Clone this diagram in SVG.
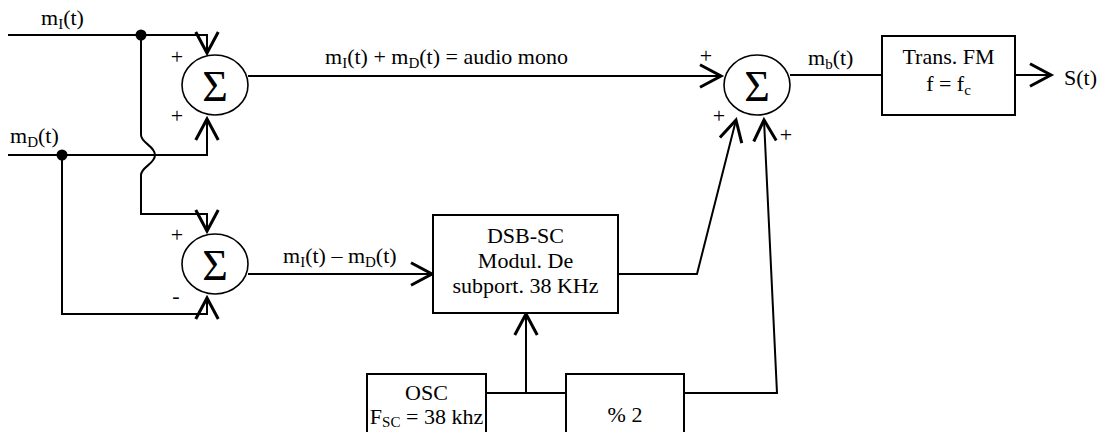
<svg xmlns="http://www.w3.org/2000/svg" width="1101" height="432" viewBox="0 0 1101 432">
  <style>
    text { font-family: "Liberation Serif", "DejaVu Serif", serif; fill: #000; }
    .lbl { font-size: 22px; }
    .sub { font-size: 15px; }
    .sign { font-size: 22px; text-anchor: middle; }
    .sigma { font-size: 44px; text-anchor: middle; }
    .mid { text-anchor: middle; }
    .wire { fill: none; stroke: #000; stroke-width: 2; stroke-linejoin: miter; }
    .arrow { marker-end: url(#head); }
    .sum { fill: #fff; stroke: #000; stroke-width: 1.6; }
    .box { fill: #fff; stroke: #000; stroke-width: 2; }
    .dot { fill: #000; }
  </style>
  <defs>
    <marker id="head" markerUnits="userSpaceOnUse" orient="auto" markerWidth="30" markerHeight="30" refX="0" refY="0" viewBox="-16 -10 20 20" overflow="visible">
      <path d="M-14,-7.5 L0,0 L-14,7.5" fill="none" stroke="#000" stroke-width="2"/>
    </marker>
  </defs>

  <!-- connectors -->
  <g id="connectors">
    <!-- m_I input into upper adder -->
    <path class="wire arrow" d="M8,35 H207 V53"/>
    <!-- m_I branch into lower adder, hopping over the m_D wire -->
    <path class="wire arrow" d="M141,35 V135 C141,143 155,146 155,155 C155,164 141,167 141,175 V214 H207 V231"/>
    <!-- m_D input into upper adder -->
    <path class="wire arrow" d="M8,155 H207 V119"/>
    <!-- m_D branch into lower adder -->
    <path class="wire arrow" d="M62,155 V314 H207 V298"/>
    <!-- mono sum to output adder -->
    <path class="wire arrow" d="M248,76 H721"/>
    <!-- difference into DSB-SC modulator -->
    <path class="wire arrow" d="M248,274 H432"/>
    <!-- modulator output to output adder -->
    <path class="wire arrow" d="M618,274 H697 L736,120"/>
    <!-- oscillator to divider, with tap into modulator -->
    <path class="wire" d="M486,393 H566"/>
    <path class="wire arrow" d="M526,393 V314"/>
    <!-- pilot from divider to output adder -->
    <path class="wire arrow" d="M684,393 H777 L764,120"/>
    <!-- adder output to FM transmitter -->
    <path class="wire" d="M790,75 H882"/>
    <!-- transmitter output -->
    <path class="wire arrow" d="M1015,75 H1051"/>

    <circle class="dot" cx="141" cy="35" r="5.5"/>
    <circle class="dot" cx="62" cy="155" r="5.5"/>

    <!-- wire labels -->
    <text class="lbl" x="41" y="25">m<tspan class="sub" dy="4">I</tspan><tspan dy="-4">(t)</tspan></text>
    <text class="lbl" x="10" y="143">m<tspan class="sub" dy="4">D</tspan><tspan dy="-4">(t)</tspan></text>
    <text class="lbl" x="325" y="64">m<tspan class="sub" dy="4">I</tspan><tspan dy="-4">(t) + m</tspan><tspan class="sub" dy="4">D</tspan><tspan dy="-4">(t) = audio mono</tspan></text>
    <text class="lbl" x="283" y="263">m<tspan class="sub" dy="4">I</tspan><tspan dy="-4">(t) – m</tspan><tspan class="sub" dy="4">D</tspan><tspan dy="-4">(t)</tspan></text>
    <text class="lbl" x="808" y="65">m<tspan class="sub" dy="4">b</tspan><tspan dy="-4">(t)</tspan></text>
    <text class="lbl" x="1064" y="85">S(t)</text>
  </g>

  <!-- upper adder: left + right -->
  <g id="sum-mono">
    <ellipse class="sum" cx="215" cy="85" rx="33" ry="30"/>
    <text class="sigma" x="215" y="101">Σ</text>
    <text class="sign" x="177" y="64">+</text>
    <text class="sign" x="177" y="123">+</text>
  </g>

  <!-- lower adder: left - right -->
  <g id="sum-diff">
    <ellipse class="sum" cx="215" cy="264" rx="33" ry="30"/>
    <text class="sigma" x="215" y="280">Σ</text>
    <text class="sign" x="177" y="242">+</text>
    <text class="sign" x="176" y="303">-</text>
  </g>

  <!-- output adder -->
  <g id="sum-out">
    <ellipse class="sum" cx="757" cy="85" rx="33" ry="30"/>
    <text class="sigma" x="757" y="101">Σ</text>
    <text class="sign" x="706" y="63">+</text>
    <text class="sign" x="719" y="123">+</text>
    <text class="sign" x="786" y="142">+</text>
  </g>

  <!-- DSB-SC modulator -->
  <g id="dsb-mod">
    <rect class="box" x="433" y="215" width="185" height="98"/>
    <text class="lbl mid" x="525.5" y="243">DSB-SC</text>
    <text class="lbl mid" x="525.5" y="268">Modul. De</text>
    <text class="lbl mid" x="525.5" y="293">subport. 38 KHz</text>
  </g>

  <!-- FM transmitter -->
  <g id="fm-tx">
    <rect class="box" x="882" y="36" width="133" height="79"/>
    <text class="lbl mid" x="948.5" y="64">Trans. FM</text>
    <text class="lbl mid" x="948.5" y="91">f = f<tspan class="sub" dy="4">c</tspan></text>
  </g>

  <!-- subcarrier oscillator -->
  <g id="osc">
    <rect class="box" x="367" y="374" width="119" height="70"/>
    <text class="lbl mid" x="426.5" y="400">OSC</text>
    <text class="lbl mid" x="426.5" y="424">F<tspan class="sub" dy="3">SC</tspan><tspan dy="-3"> = 38 khz</tspan></text>
  </g>

  <!-- frequency divider -->
  <g id="divider">
    <rect class="box" x="566" y="374" width="118" height="70"/>
    <text class="lbl mid" x="625" y="422">% 2</text>
  </g>
</svg>
